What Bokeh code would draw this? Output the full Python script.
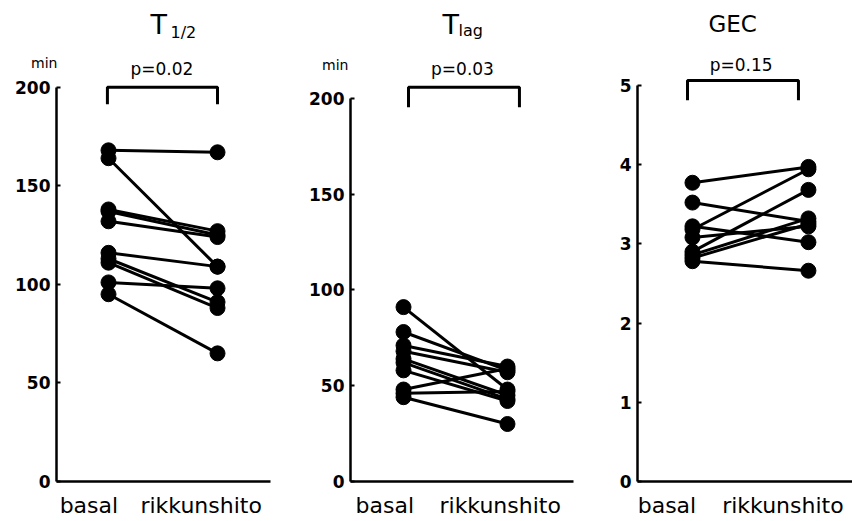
from bokeh.plotting import figure
from bokeh.models import ColumnDataSource, Range1d, FixedTicker, Label, LinearAxis
from bokeh.layouts import row
from bokeh.embed import file_html
from bokeh.resources import INLINE

# ---------------- data ----------------
groups = ["basal", "rikkunshito"]

t_half_basal = [168, 164, 138, 137, 132, 116, 113, 111, 101, 95]
t_half_rikk = [167, 109, 127, 125, 124, 109, 91, 88, 98, 65]

t_lag_basal = [91, 78, 71, 68, 64, 62, 58, 48, 46, 44]
t_lag_rikk = [48, 58, 60, 57, 45, 43, 42, 59, 47, 30]

gec_basal = [3.77, 3.52, 3.22, 3.18, 3.08, 2.90, 2.86, 2.82, 2.78]
gec_rikk = [3.97, 3.28, 3.02, 3.94, 3.22, 3.68, 3.32, 3.25, 2.66]

p_values = ["p=0.02", "p=0.03", "p=0.15"]
y_ticks_min = [0, 50, 100, 150, 200]
y_ticks_gec = [0, 1, 2, 3, 4, 5]
unit_label = "min"

FONT = "DejaVu Sans"
H = 520


def make_panel(basal, rikk, width, border_left, border_right, x_rng, y_rng,
               y_bound, y_ticks, label_pos, bracket, ptext, title_parts,
               unit=None):
    p = figure(width=width, height=H, output_backend="svg",
               toolbar_location=None, x_range=Range1d(*x_rng),
               y_range=Range1d(*y_rng), min_border_left=border_left,
               min_border_right=border_right, min_border_top=0,
               min_border_bottom=H - 482, background_fill_color="white",
               border_fill_color="white", outline_line_color=None)
    p.grid.visible = False

    # y axis
    ya = p.yaxis[0]
    ya.ticker = FixedTicker(ticks=y_ticks)
    ya.bounds = y_bound
    ya.axis_line_width = 2.5
    ya.axis_line_color = "black"
    ya.major_tick_in = 4
    ya.major_tick_out = 0
    ya.major_tick_line_width = 2
    ya.minor_tick_line_color = None
    ya.major_label_text_font = FONT
    ya.major_label_text_font_size = "17px"
    ya.major_label_text_font_style = "bold"
    ya.major_label_text_color = "black"
    ya.major_label_standoff = 6

    # unit label ("min") as a tick label of a second, line-less axis
    if unit is not None:
        uy, ustand = unit
        ua = LinearAxis(ticker=FixedTicker(ticks=[uy]),
                        major_label_overrides={uy: unit_label},
                        bounds=(uy - 3, uy + 3))
        ua.axis_line_color = None
        ua.major_tick_line_color = None
        ua.minor_tick_line_color = None
        ua.major_tick_in = 0
        ua.major_tick_out = 0
        ua.major_label_text_font = FONT
        ua.major_label_text_font_size = "14px"
        ua.major_label_text_color = "black"
        ua.major_label_standoff = ustand
        p.add_layout(ua, "left")

    # x axis
    xa = p.xaxis[0]
    xa.ticker = FixedTicker(ticks=label_pos)
    xa.major_label_overrides = {label_pos[0]: groups[0], label_pos[1]: groups[1]}
    xa.axis_line_width = 2.5
    xa.axis_line_color = "black"
    xa.major_tick_line_color = None
    xa.minor_tick_line_color = None
    xa.major_label_text_font = FONT
    xa.major_label_text_font_size = "22px"
    xa.major_label_text_color = "black"
    xa.major_label_standoff = 5

    n = len(basal)
    src = ColumnDataSource(dict(x0=[1] * n, y0=basal, x1=[2] * n, y1=rikk))
    p.segment("x0", "y0", "x1", "y1", source=src, line_color="black",
              line_width=3)
    p.scatter("x0", "y0", source=src, size=15, color="black")
    p.scatter("x1", "y1", source=src, size=15, color="black")

    # significance bracket
    bx0, bx1, btop, bleg = bracket
    p.line([bx0, bx0, bx1, bx1], [bleg, btop, btop, bleg], line_color="black",
           line_width=3)
    p.add_layout(Label(x=ptext[1], y=ptext[2], text=ptext[0], text_font=FONT,
                       text_font_size="17px", text_align="center",
                       text_baseline="alphabetic", text_color="black"))

    for (txt, tx, ty, fs) in title_parts:
        p.add_layout(Label(x=tx, y=ty, text=txt, text_font=FONT,
                           text_font_size=fs, text_align="left",
                           text_baseline="alphabetic", text_color="black"))
    return p


p1 = make_panel(t_half_basal, t_half_rikk, 290, 56, 20,
                (0.523, 2.486), (0, 244.0), (0, 200), y_ticks_min,
                [0.82, 1.85], (0.99, 2.0, 200, 191.4),
                (p_values[0], 1.49, 209.3),
                [("T", 1.385, 231.8, "27px"), ("1/2", 1.569, 227.9, "16px")],
                unit=(212.2, -45))

p2 = make_panel(t_lag_basal, t_lag_rikk, 290, 60, 7,
                (0.490, 2.635), (0, 251.0), (0, 200), y_ticks_min,
                [0.82, 1.93], (1.048, 2.115, 205.7, 195.3),
                (p_values[1], 1.567, 215.1),
                [("T", 1.375, 238.6, "27px"), ("lag", 1.529, 235.4, "16px")],
                unit=(217.2, -42))

p3 = make_panel(gec_basal, gec_rikk, 272, 57, 0,
                (0.526, 2.38), (0, 6.07), (0, 5), y_ticks_gec,
                [0.78, 1.78], (0.957, 1.914, 5.06, 4.81),
                (p_values[2], 1.42, 5.256),
                [("GEC", 1.138, 5.77, "23px")])

layout = row(p1, p2, p3)
open("out.html", "w").write(file_html(layout, INLINE))
